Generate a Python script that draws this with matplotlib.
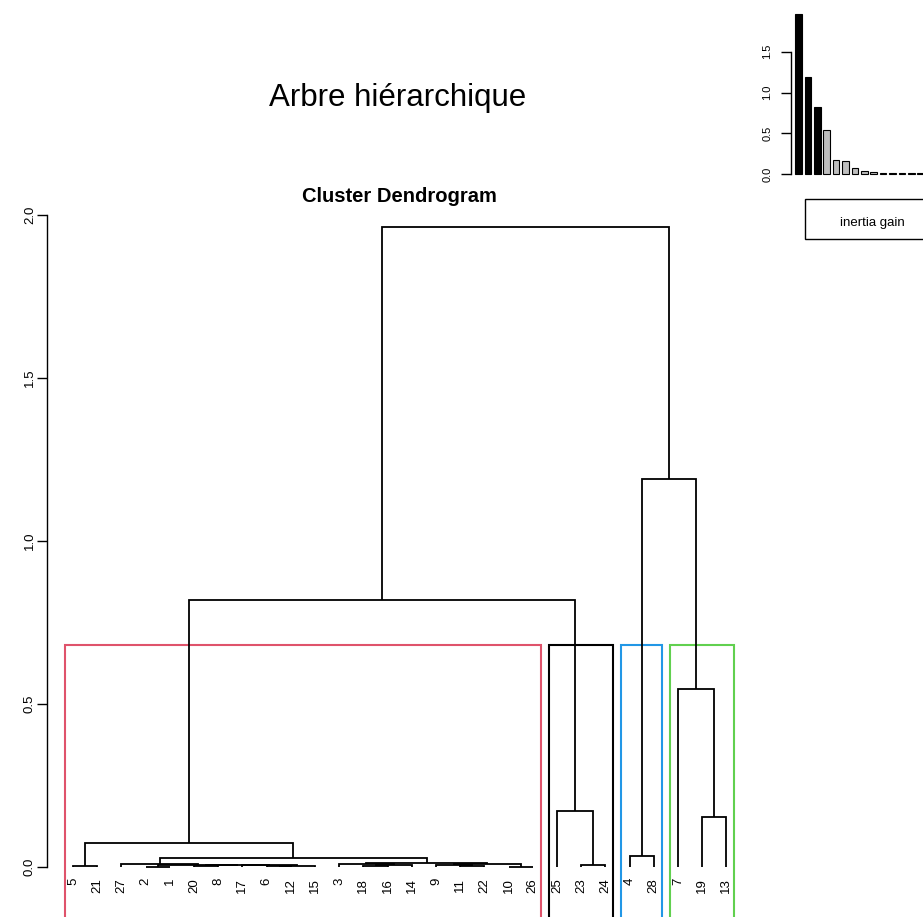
import numpy as np
import matplotlib.pyplot as plt
from matplotlib.patches import Rectangle

plt.rcParams['font.family'] = ['Liberation Sans', 'DejaVu Sans']

# individuals in the order they appear along the tree
leaf_order = ["5", "21", "27", "2", "1", "20", "8", "17", "6", "12", "15",
              "3", "18", "16", "14", "9", "11", "22", "10", "26",
              "25", "23", "24", "4", "28", "7", "19", "13"]

# agglomeration steps: (left, right, height); an int points to an earlier step
merges = [
    ("5", "21", 0.003),
    ("2", "1", 0.001),
    ("20", "8", 0.002),
    ("6", "12", 0.002),
    (3, "15", 0.004),
    ("17", 4, 0.005),
    (2, 5, 0.006),
    (1, 6, 0.007),
    ("27", 7, 0.009),
    ("18", "16", 0.003),
    (9, "14", 0.005),
    ("3", 10, 0.008),
    ("11", "22", 0.004),
    ("9", 12, 0.007),
    ("10", "26", 0.001),
    (13, 14, 0.010),
    (11, 15, 0.013),
    (8, 16, 0.029),
    (0, 17, 0.073),
    ("23", "24", 0.005),
    ("25", 19, 0.172),
    (18, 20, 0.820),
    ("4", "28", 0.035),
    ("19", "13", 0.154),
    ("7", 23, 0.545),
    (22, 24, 1.190),
    (21, 25, 1.963),
]

nb_clust = 4
clust_colors = ["#DF536B", "black", "#2297E6", "#61D04F"]

W, H = 923, 917


def px_box(l, t, r, b):
    return [l / W, 1 - b / H, (r - l) / W, (b - t) / H]


fig = plt.figure(figsize=(W / 100, H / 100), dpi=100)

# ---- dendrogram ----
ax = fig.add_axes(px_box(47, 200, 752.5, 960))
pos = {name: i for i, name in enumerate(leaf_order)}
node_x, node_h, node_leaves = [], [], []


def child(c):
    if isinstance(c, str):
        return pos[c], 0.0, [c]
    return node_x[c], node_h[c], node_leaves[c]


for a, b, h in merges:
    xa, ha, la = child(a)
    xb, hb, lb = child(b)
    ax.plot([xa, xa, xb, xb], [ha, h, h, hb], color="black", lw=1.3,
            solid_joinstyle="miter", solid_capstyle="butt")
    node_x.append((xa + xb) / 2)
    node_h.append(h)
    node_leaves.append(la + lb)

for name, i in pos.items():
    ax.text(i, -0.033, name, rotation=90, ha="center", va="top", fontsize=9.5)

ax.set_xlim(-(73 - 47) / 24.2, (752.5 - 73) / 24.2)
ax.set_ylim(-(960 - 867) / 326, (867 - 200) / 326)

# cut the tree into nb_clust groups and box each one
top = sorted(range(len(merges)), key=lambda k: node_h[k])[-(nb_clust - 1):]
groups = []
for k in top:
    for c in merges[k][:2]:
        if isinstance(c, str):
            groups.append([c])
        elif c not in top:
            groups.append(node_leaves[c])
groups.sort(key=lambda g: min(pos[n] for n in g))
heights_desc = sorted(node_h, reverse=True)
cut_h = (heights_desc[nb_clust - 2] + heights_desc[nb_clust - 1]) / 2
ybot = ax.get_ylim()[0]
for g, col in zip(groups, clust_colors):
    lo = min(pos[n] for n in g) - 0.34
    hi = max(pos[n] for n in g) + 0.33
    ax.add_patch(Rectangle((lo, ybot), hi - lo, cut_h - ybot, fill=False,
                           edgecolor=col, lw=1.5, clip_on=False))

for s in ["top", "right", "bottom"]:
    ax.spines[s].set_visible(False)
ax.spines["left"].set_bounds(0, 2)
ax.spines["left"].set_linewidth(1.0)
ax.set_xticks([])
ax.set_yticks([0, 0.5, 1.0, 1.5, 2.0])
ax.set_yticklabels(["0.0", "0.5", "1.0", "1.5", "2.0"], rotation=90,
                   va="center", fontsize=9.5)
ax.tick_params(axis="y", length=7.5, width=1.0, pad=0.5)

fig.text(399 / W, 1 - 202 / H, "Cluster Dendrogram", ha="center",
         va="baseline", fontsize=14.5, fontweight="bold")
fig.text(397.5 / W, 1 - 106 / H, "Arbre hiérarchique", ha="center",
         va="baseline", fontsize=22.5)

# ---- inertia gain bars ----
gains = heights_desc
bar_cols = ["black"] * (nb_clust - 1) + ["#BEBEBE"] * (len(gains) - nb_clust + 1)
ax2 = fig.add_axes(px_box(791, 5, 1060, 180))
ax2.bar(np.arange(len(gains)), gains, width=0.7, color=bar_cols,
        edgecolor="black", lw=0.8)
ax2.set_xlim((791 - 798.5) / 9.4, (1060 - 798.5) / 9.4)
ax2.set_ylim(-6 / 81.5, (174 - 5) / 81.5)
for s in ["top", "right", "bottom"]:
    ax2.spines[s].set_visible(False)
ax2.spines["left"].set_bounds(0, 1.5)
ax2.spines["left"].set_linewidth(1.0)
ax2.set_xticks([])
ax2.set_yticks([0, 0.5, 1.0, 1.5])
ax2.set_yticklabels(["0.0", "0.5", "1.0", "1.5"], rotation=90,
                    va="center", fontsize=8)
ax2.tick_params(axis="y", length=7.5, width=1.0, pad=6)

leg = Rectangle((805 / W, 1 - 239 / H), 140 / W, 40 / H,
                transform=fig.transFigure, fill=True, facecolor="white",
                edgecolor="black", lw=1.0)
fig.patches.append(leg)
fig.text(872 / W, 1 - 223 / H, "inertia gain", ha="center", va="center",
         fontsize=9.5)

fig.savefig("out.png", dpi=100)
